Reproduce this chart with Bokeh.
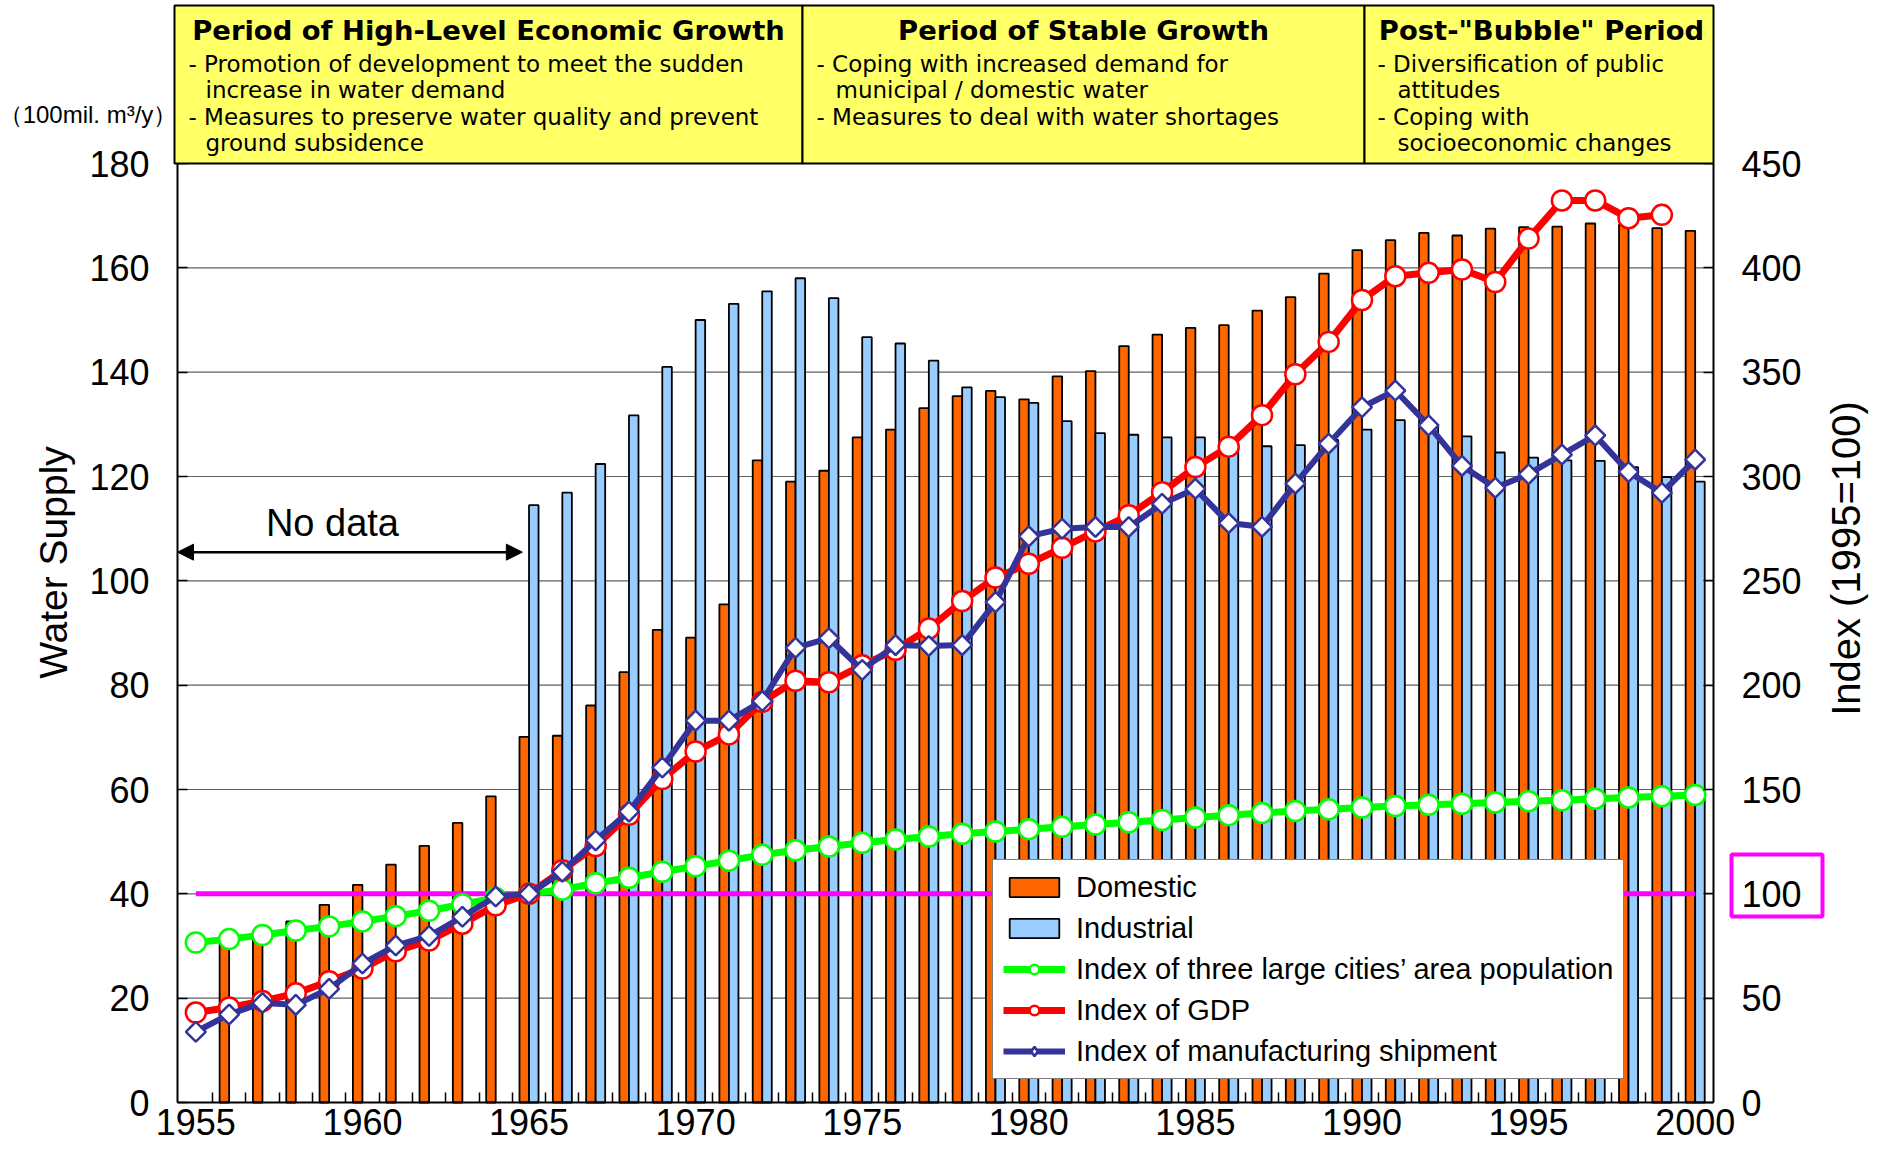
import math
from bokeh.plotting import figure
from bokeh.models import (Range1d, LinearAxis, FixedTicker, ColumnDataSource, Legend, LegendItem,
                          BoxAnnotation, Label, Arrow, NormalHead)
from bokeh.transform import dodge
from bokeh.embed import file_html
from bokeh.resources import INLINE

# ---------------- data ----------------
years = list(range(1955, 2001))

domestic = [None, 30.8, 31.5, 34.7, 37.9, 41.7, 45.6, 49.2, 53.6, 58.7,
            70.1, 70.3, 76.1, 82.5, 90.6, 89.1, 95.5, 123.1, 119.0, 121.1,
            127.5, 129.0, 133.1, 135.4, 136.4, 134.8, 139.2, 140.2, 145.0, 147.2,
            148.5, 149.0, 151.8, 154.4, 158.9, 163.4, 165.3, 166.7, 166.2, 167.5,
            167.8, 167.9, 168.5, 168.3, 167.6, 167.1]

industrial = [None, None, None, None, None, None, None, None, None, None,
              114.5, 116.9, 122.4, 131.7, 141.0, 150.0, 153.1, 155.5, 158.0, 154.2,
              146.7, 145.5, 142.2, 137.1, 135.2, 134.1, 130.6, 128.3, 128.0, 127.5,
              127.5, 126.5, 125.8, 126.0, 127.0, 129.0, 130.8, 129.5, 127.7, 124.6,
              123.6, 123.1, 123.0, 121.8, 119.9, 119.0]

pop_index = [76.7, 78.3, 80.3, 82.4, 84.4, 86.8, 89.3, 91.9, 95.0, 98.0,
             100.0, 102.0, 105.1, 107.7, 110.6, 113.2, 115.9, 118.7, 120.9, 122.7,
             124.5, 126.0, 127.5, 128.8, 129.9, 131.0, 132.1, 133.2, 134.3, 135.4,
             136.6, 137.7, 138.7, 139.7, 140.5, 141.4, 142.1, 142.7, 143.2, 143.8,
             144.4, 144.8, 145.6, 146.2, 146.8, 147.4]

gdp_index = [43.1, 45.5, 48.6, 52.3, 58.1, 64.2, 72.5, 77.6, 85.7, 94.5,
             100.0, 111.3, 122.9, 137.9, 155.0, 168.2, 176.4, 192.0, 202.1, 201.4,
             209.5, 217.0, 227.1, 240.3, 251.6, 258.2, 265.8, 273.7, 281.4, 292.5,
             304.5, 314.3, 329.4, 349.0, 364.5, 384.6, 396.0, 397.6, 399.2, 393.2,
             414.0, 432.3, 432.3, 423.8, 425.4]

mfg_index = [33.9, 42.2, 47.7, 46.8, 54.5, 66.6, 75.2, 79.8, 89.0, 98.7,
             100.0, 110.6, 125.6, 139.4, 160.5, 183.0, 183.0, 192.4, 217.9, 222.5,
             207.3, 219.2, 218.8, 219.2, 239.8, 271.3, 275.0, 275.8, 275.8, 286.9,
             294.1, 277.7, 275.9, 296.6, 315.7, 333.2, 341.2, 324.5, 305.1, 294.6,
             301.1, 310.5, 319.7, 302.2, 292.2, 308.1]

ref_years = [1955, 2000]
ref_level = [100, 100]

left_ticks = list(range(0, 181, 20))
grid_vals = list(range(20, 161, 20))
right_ticks = list(range(0, 451, 50))
x_labels = list(range(1955, 2001, 5))

series_names = ["Domestic", "Industrial",
                "Index of three large cities\u2019 area population",
                "Index of GDP", "Index of manufacturing shipment"]

titles = ["Period of High-Level Economic Growth", "Period of Stable Growth",
          'Post-"Bubble" Period']
box_lines = [
    ["- Promotion of development to meet the sudden", "increase in water demand",
     "- Measures to preserve water quality and prevent", "ground subsidence"],
    ["- Coping with increased demand for", "municipal / domestic water",
     "- Measures to deal with water shortages"],
    ["- Diversification of public", "attitudes", "- Coping with", "socioeconomic changes"],
]

# ---------------- layout constants (pixels) ----------------
W, H = 1876, 1150
PL, PR, PT, PB = 177, 1713, 163, 1102       # plot area in canvas pixels
XMIN, XMAX = 1954.45, 2000.55
YMAX, RMAX = 180, 450
FONT = "Liberation Sans"
HFONT = "DejaVu Sans"
BAR_W = 0.286

ppx = (PR - PL) / (XMAX - XMIN)
ppy = (PB - PT) / YMAX
x_range = Range1d(XMIN - PL / ppx, XMAX + (W - PR) / ppx)
y_range = Range1d(-(H - PB) / ppy, YMAX + PT / ppy)
r_scale = RMAX / YMAX
idx_range = Range1d(y_range.start * r_scale, y_range.end * r_scale)

p = figure(width=W, height=H, x_range=x_range, y_range=y_range,
           output_backend="svg", toolbar_location=None,
           min_border_left=0, min_border_right=0, min_border_top=0, min_border_bottom=0)
p.extra_y_ranges = {"idx": idx_range}
p.background_fill_color = "white"
p.border_fill_color = "white"
p.outline_line_color = None
p.xgrid.grid_line_color = None
p.ygrid.grid_line_color = None

# axes (drawn at fixed locations inside the canvas)
xa = p.xaxis[0]
xa.fixed_location = 0
xa.bounds = (XMIN, XMAX)
xa.ticker = FixedTicker(ticks=x_labels, minor_ticks=[y + 0.5 for y in years[:-1]])
xa.major_tick_in = 0
xa.major_tick_out = 0
xa.minor_tick_in = 10
xa.minor_tick_out = 0
xa.minor_tick_line_color = "black"
xa.minor_tick_line_width = 1.5
xa.major_label_text_font = FONT
xa.major_label_text_font_size = "36px"
xa.major_label_text_color = "black"
xa.major_label_standoff = 6
xa.axis_line_color = "black"
xa.axis_line_width = 2

ya = p.yaxis[0]
ya.fixed_location = XMIN
ya.bounds = (0, YMAX)
ya.ticker = FixedTicker(ticks=left_ticks)
ya.major_tick_in = 10
ya.major_tick_out = 0
ya.minor_tick_line_color = None
ya.major_tick_line_width = 1.5
ya.major_label_text_font = FONT
ya.major_label_text_font_size = "36px"
ya.major_label_text_color = "black"
ya.major_label_standoff = 28
ya.axis_line_color = "black"
ya.axis_line_width = 2

ra = LinearAxis(y_range_name="idx", ticker=FixedTicker(ticks=right_ticks))
ra.fixed_location = XMAX
ra.bounds = (0, RMAX)
ra.major_tick_in = 10
ra.major_tick_out = 0
ra.minor_tick_line_color = None
ra.major_tick_line_width = 1.5
ra.major_label_text_font = FONT
ra.major_label_text_font_size = "36px"
ra.major_label_text_color = "black"
ra.major_label_standoff = 28
ra.axis_line_color = "black"
ra.axis_line_width = 2
p.add_layout(ra, "right")

# horizontal gridlines limited to the plot area
p.segment(x0=[XMIN] * len(grid_vals), x1=[XMAX] * len(grid_vals), y0=grid_vals, y1=grid_vals,
          line_color="#606060", line_width=1.2)

# bars
dom_src = ColumnDataSource(dict(year=[y for y, v in zip(years, domestic) if v is not None],
                                val=[v for v in domestic if v is not None]))
ind_src = ColumnDataSource(dict(year=[y for y, v in zip(years, industrial) if v is not None],
                                val=[v for v in industrial if v is not None]))
r_dom = p.vbar(x=dodge("year", -BAR_W / 2), width=BAR_W, top="val", bottom=0, source=dom_src,
               fill_color="#FF6600", line_color="black", line_width=1.8)
r_ind = p.vbar(x=dodge("year", BAR_W / 2), width=BAR_W, top="val", bottom=0, source=ind_src,
               fill_color="#99CCFF", line_color="black", line_width=1.8)

# reference line at index 100
p.line(ref_years, ref_level, y_range_name="idx", line_color="#FF00FF", line_width=5)

# index lines
g_line = p.line(years, pop_index, y_range_name="idx", line_color="#00FF00", line_width=7)
g_mk = p.scatter(years, pop_index, y_range_name="idx", marker="circle", size=20,
                 fill_color="white", line_color="#00FF00", line_width=2.5)
gdp_years = years[:len(gdp_index)]
r_line = p.line(gdp_years, gdp_index, y_range_name="idx", line_color="#FF0000", line_width=7)
r_mk = p.scatter(gdp_years, gdp_index, y_range_name="idx", marker="circle", size=20,
                 fill_color="white", line_color="#FF0000", line_width=2.5)
b_line = p.line(years, mfg_index, y_range_name="idx", line_color="#333399", line_width=6)
b_mk = p.scatter(years, mfg_index, y_range_name="idx", marker="square", angle=math.pi / 4,
                 size=14, fill_color="white", line_color="#333399", line_width=2.5)
b_leg = p.scatter(years, mfg_index, y_range_name="idx", marker="diamond", size=22,
                  fill_color="white", line_color="#333399", line_width=2.5, visible=False)

# "No data" annotation
p.add_layout(Arrow(x_start=XMIN, y_start=105.5, x_end=1964.8, y_end=105.5, line_width=2.5,
                   start=NormalHead(size=16, fill_color="black", line_color="black"),
                   end=NormalHead(size=16, fill_color="black", line_color="black")))
p.add_layout(Label(x=1959.1, y=111.0, text="No data", text_font=FONT, text_font_size="38px",
                   text_align="center", text_baseline="middle", text_color="black"))

# legend
legend = Legend(items=[
    LegendItem(label=series_names[0], renderers=[r_dom]),
    LegendItem(label=series_names[1], renderers=[r_ind]),
    LegendItem(label=series_names[2], renderers=[g_line, g_mk]),
    LegendItem(label=series_names[3], renderers=[r_line, r_mk]),
    LegendItem(label=series_names[4], renderers=[b_line, b_leg]),
], location=(992, H - 1079), margin=0, padding=10, spacing=7, glyph_width=62, glyph_height=24,
    label_height=34, label_standoff=11, label_text_font=FONT, label_text_font_size="29px",
    label_text_color="black", border_line_color="black", border_line_width=1.5,
    background_fill_color="white", background_fill_alpha=1)
p.add_layout(legend)


def sy(ypix):
    return H - ypix


def box(l, r, t, b, **kw):
    return BoxAnnotation(left=l, right=r, top=sy(t), bottom=sy(b),
                         left_units="screen", right_units="screen",
                         top_units="screen", bottom_units="screen", **kw)


# header boxes
box_edges = [174, 802, 1364, 1713]
for i in range(3):
    p.add_layout(box(box_edges[i], box_edges[i + 1], 5, PT,
                     fill_color="#FFFF66", fill_alpha=1, line_color="black", line_alpha=1,
                     line_width=2))

title_cx = [488, 1083, 1541]
text_x0 = [188, 816, 1377]
indent = [17, 19, 20]
title_mid = 30
line_mid = [63.5, 89.8, 116.2, 142.5]
for i in range(3):
    p.add_layout(Label(x=title_cx[i], y=sy(title_mid), x_units="screen", y_units="screen",
                       text=titles[i], text_font=HFONT, text_font_style="bold",
                       text_font_size="27.4px", text_align="center",
                       text_baseline="middle", text_color="black"))
    for j, t in enumerate(box_lines[i]):
        xx = text_x0[i] + (0 if t.startswith("-") else indent[i])
        p.add_layout(Label(x=xx, y=sy(line_mid[j]), x_units="screen", y_units="screen",
                           text=t, text_font=HFONT, text_font_size="23px", text_align="left",
                           text_baseline="middle", text_color="black"))

# unit label
p.add_layout(Label(x=87.5, y=sy(114), x_units="screen", y_units="screen",
                   text="\uff08100mil. m\u00b3/y\uff09", text_font=FONT, text_font_size="24px",
                   text_align="center", text_baseline="middle", text_color="black"))

# axis titles
p.add_layout(Label(x=52.7, y=sy(562), x_units="screen", y_units="screen",
                   text="Water Supply", angle=math.pi / 2, text_font=FONT,
                   text_font_size="39px", text_align="center", text_baseline="middle",
                   text_color="black"))
p.add_layout(Label(x=1845, y=sy(558), x_units="screen", y_units="screen",
                   text="Index (1995=100)", angle=math.pi / 2, text_font=FONT,
                   text_font_size="40px", text_align="center", text_baseline="middle",
                   text_color="black"))

# highlight box around 100
p.add_layout(box(1731, 1822, 854, 916, fill_alpha=0, line_color="#FF00FF", line_alpha=1,
                 line_width=4))

open("out.html", "w").write(file_html(p, INLINE))
